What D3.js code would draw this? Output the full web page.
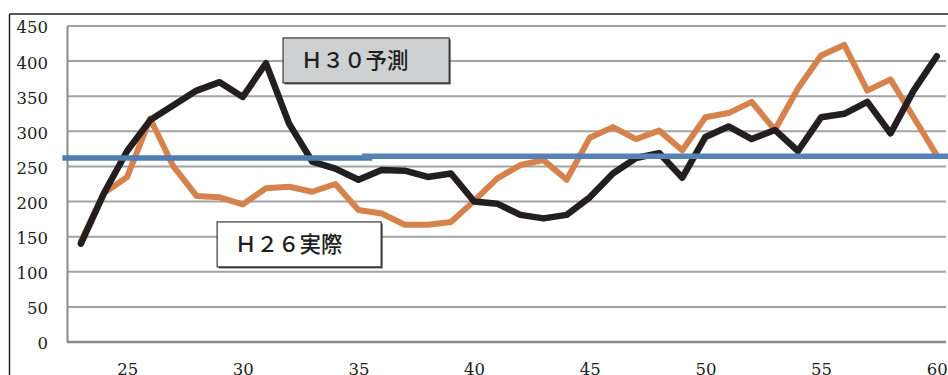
<!DOCTYPE html>
<html>
<head>
<meta charset="utf-8">
<script src="https://cdn.jsdelivr.net/npm/d3@7"></script>
<style>
  html, body { margin: 0; padding: 0; background: #fff; }
  svg { display: block; }
</style>
</head>
<body>
<svg id="chart" width="948" height="375"></svg>
<script>
// Ages on the x axis (one point per age)
const ages = d3.range(23, 61);

// H30 forecast
const forecastH30 = [
  140, 212, 272, 316, 337, 358, 370, 349, 397, 311,
  257, 247, 231, 245, 244, 235, 240, 200, 197, 181,
  176, 181, 206, 240, 262, 269, 234, 292, 307, 289,
  302, 272, 320, 325, 342, 297, 358, 407
];

// H26 actual
const actualH26 = [
  143, 212, 235, 318, 250, 208, 206, 196, 219, 221,
  214, 225, 188, 183, 167, 167, 171, 201, 233, 252,
  259, 231, 291, 306, 289, 301, 273, 320, 326, 342,
  302, 361, 408, 423, 358, 374, 320, 266
];

// Reference levels drawn as horizontal bars
const refLevels = [
  { value: 262, from: 22.2, to: 35.6 },
  { value: 264.5, from: 35.15, to: 60.6 }
];

const yTicks = [0, 50, 100, 150, 200, 250, 300, 350, 400, 450];
const xTicks = [25, 30, 35, 40, 45, 50, 55, 60];

// Text boxes naming each series
const seriesLabels = [
  { text: "Ｈ３０予測", age: 31.74, val: 433, age2: 38.92, val2: 369, fill: "#cfd0d2" },
  { text: "Ｈ２６実際", age: 28.89, val: 171, age2: 35.98, val2: 107, fill: "#ffffff" }
];

const svg = d3.select("#chart");

const x = d3.scaleLinear().domain([22.4, 60.4]).range([67, 946]);
const y = d3.scaleLinear().domain([0, 450]).range([342, 26]);

// Outer frame (top and left edges visible)
svg.append("line").attr("x1", 9.5).attr("x2", 948).attr("y1", 14).attr("y2", 14)
  .attr("stroke", "#222").attr("stroke-width", 1.5);
svg.append("line").attr("x1", 9.5).attr("x2", 9.5).attr("y1", 14).attr("y2", 375)
  .attr("stroke", "#222").attr("stroke-width", 1.5);

// Horizontal gridlines
svg.append("g").selectAll("line").data(yTicks.filter(d => d > 0)).join("line")
  .attr("x1", 67).attr("x2", 946)
  .attr("y1", d => y(d)).attr("y2", d => y(d))
  .attr("stroke", "#a3a3a3").attr("stroke-width", 2);

// Y axis with labels
const yAxis = d3.axisLeft(y).tickValues(yTicks).tickSize(0).tickPadding(19);
const gy = svg.append("g").attr("transform", "translate(67,0)").call(yAxis);
gy.select(".domain").attr("stroke", "#8a8a8a").attr("stroke-width", 2);
gy.selectAll("text")
  .attr("font-family", "'DejaVu Serif', serif")
  .attr("font-size", 16.5)
  .attr("fill", "#222")
  .attr("dy", "0.42em");

// X axis with labels
const xAxis = d3.axisBottom(x).tickValues(xTicks).tickSize(0).tickPadding(21);
const gx = svg.append("g").attr("transform", "translate(0,342)").call(xAxis);
gx.select(".domain").attr("stroke", "#8a8a8a").attr("stroke-width", 2.5)
  .attr("d", `M67,0H946`);
gx.selectAll("text")
  .attr("font-family", "'DejaVu Serif', serif")
  .attr("font-size", 16.5)
  .attr("fill", "#222");

const line = d3.line().x((d, i) => x(ages[i])).y(d => y(d));

// Series lines
svg.append("path").datum(actualH26)
  .attr("d", line)
  .attr("fill", "none")
  .attr("stroke", "#d5824d")
  .attr("stroke-width", 6)
  .attr("stroke-linejoin", "round")
  .attr("stroke-linecap", "round");

svg.append("path").datum(forecastH30)
  .attr("d", line)
  .attr("fill", "none")
  .attr("stroke", "#231f20")
  .attr("stroke-width", 6.5)
  .attr("stroke-linejoin", "round")
  .attr("stroke-linecap", "round");

// Reference bars
svg.append("g").selectAll("line").data(refLevels).join("line")
  .attr("x1", d => x(d.from)).attr("x2", d => x(d.to))
  .attr("y1", d => y(d.value)).attr("y2", d => y(d.value))
  .attr("stroke", (d, i) => i === 0 ? "#4d7db2" : "#5682b5")
  .attr("stroke-width", 5.5);

// Series label boxes
const lb = svg.append("g").selectAll("g").data(seriesLabels).join("g");
lb.append("rect")
  .attr("x", d => x(d.age) + 1.5).attr("y", d => y(d.val) + 1.5)
  .attr("width", d => x(d.age2) - x(d.age)).attr("height", d => y(d.val2) - y(d.val))
  .attr("fill", "#3a3a3a");
lb.append("rect")
  .attr("x", d => x(d.age)).attr("y", d => y(d.val))
  .attr("width", d => x(d.age2) - x(d.age)).attr("height", d => y(d.val2) - y(d.val))
  .attr("fill", d => d.fill)
  .attr("stroke", "#3a3a3a").attr("stroke-width", 1.2);
lb.append("text")
  .attr("x", d => x(d.age) + 18)
  .attr("y", d => (y(d.val) + y(d.val2)) / 2)
  .attr("dy", "0.36em")
  .attr("font-family", "'Noto Sans CJK JP', sans-serif")
  .attr("font-size", 21.5)
  .attr("font-weight", 500)
  .attr("fill", "#1e1e1e")
  .text(d => d.text);
</script>
</body>
</html>
